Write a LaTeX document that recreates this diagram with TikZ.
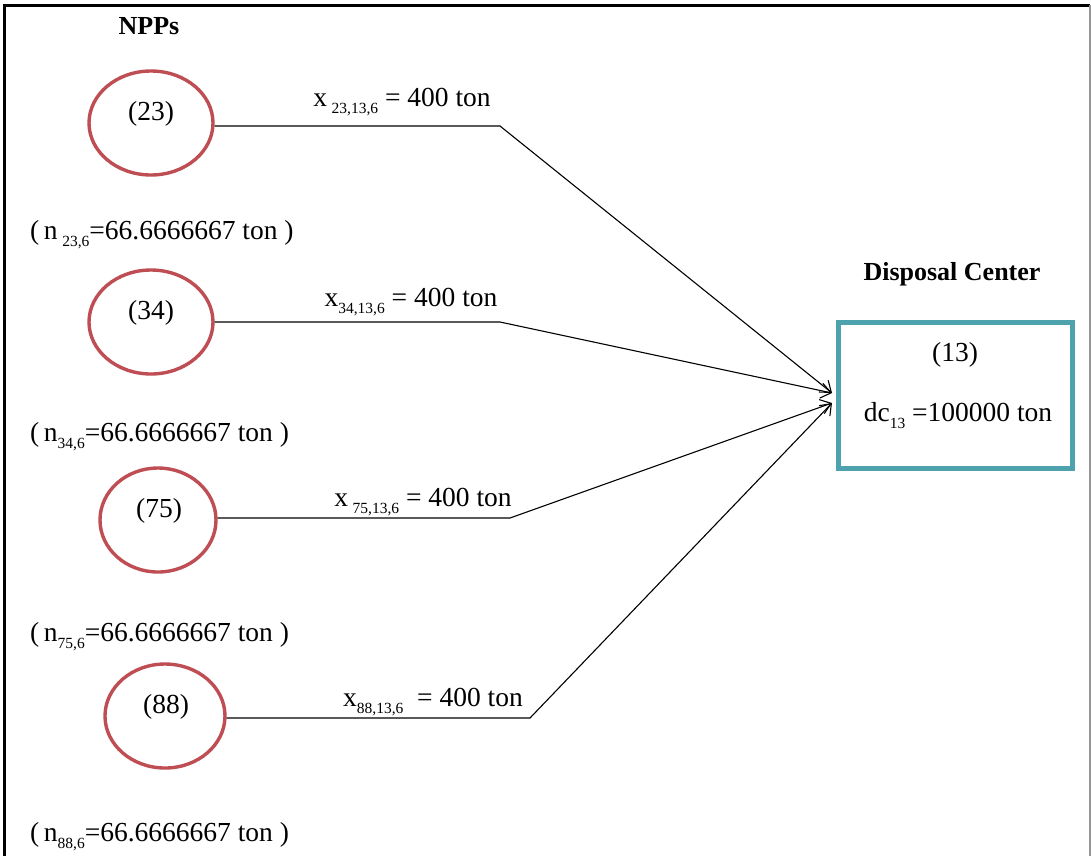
\documentclass[tikz,border=0pt]{standalone}
\usepackage{fontspec}
\setmainfont{Liberation Serif}
\usetikzlibrary{shapes.geometric,arrows.meta}
\definecolor{nppred}{RGB}{190,78,84}
\definecolor{dcteal}{RGB}{78,162,174}
\definecolor{framegrey}{RGB}{150,150,150}
\newcommand{\sbx}[1]{\raisebox{-7pt}{\fontsize{15.5}{15.5}\selectfont #1}}
\begin{document}
\begin{tikzpicture}[x=1pt,y=-1pt,
  npp/.style={ellipse,draw=nppred,line width=3.4pt,inner sep=0pt,minimum height=104pt},
  txt/.style={font=\fontsize{27.5}{32}\selectfont,inner sep=0pt,anchor=base},
  hdr/.style={font=\fontsize{26}{30}\selectfont\bfseries,inner sep=0pt,anchor=base},
  dcbox/.style={draw=dcteal,line width=5pt,minimum width=234pt,minimum height=146pt,inner sep=0pt},
  flowarr/.style={line width=1.1pt,-{Straight Barb[length=10pt,width=15pt,line width=1.1pt]}}]
\useasboundingbox (0,0) rectangle (1091,855);
\fill[white] (0,0) rectangle (1091,855);
% frame
\draw[line width=3pt] (4,856) -- (4,5) -- (1090,5);
\draw[framegrey,line width=1.5pt] (1090,5) -- (1090,856);

% headers
\node[hdr] (nppsh) at (149,34) {NPPs};
\node[hdr] (dch) at (952,280) {Disposal Center};

% NPP nodes
\node[npp,minimum width=124pt] (n23) at (151,123) {};
\node[npp,minimum width=124pt] (n34) at (151,322) {};
\node[npp,minimum width=116pt] (n75) at (158,520) {};
\node[npp,minimum width=120pt] (n88) at (165,716) {};
\node[txt] (t23) at (151,120) {(23)};
\node[txt] (t34) at (151,319) {(34)};
\node[txt] (t75) at (159,517) {(75)};
\node[txt] (t88) at (166,713) {(88)};

% disposal center
\node[dcbox] (dc) at (955,395) {};
\node[txt] (t13) at (955,361) {(13)};
\node[txt] (tdc) at (958,421) {dc\sbx{13} =100000 ton};

% bends and tips
\coordinate (b23) at (500,126);
\coordinate (b34) at (500,322);
\coordinate (b75) at (510,518);
\coordinate (b88) at (530,718);
\coordinate (tipU) at (832,393);
\coordinate (tipL) at (832,403);

\draw[flowarr] (n23.east |- b23) -- (b23) -- (tipU);
\draw[flowarr] (n34.east |- b34) -- (b34) -- (tipU);
\draw[flowarr] (n75.east |- b75) -- (b75) -- (tipL);
\draw[flowarr] (n88.east |- b88) -- (b88) -- (tipL);

% flow labels
\node[txt] (x23) at (402,106) {x\,\sbx{23,13,6} = 400 ton};
\node[txt] (x34) at (411,306) {x\sbx{34,13,6} = 400 ton};
\node[txt] (x75) at (423,506) {x\,\sbx{75,13,6} = 400 ton};
\node[txt] (x88) at (433,706) {x\sbx{88,13,6} \ = 400 ton};

% capacity labels
\node[txt,anchor=base west] (c23) at (30,239) {(\,n\,\sbx{23,6}=66.6666667 ton )};
\node[txt,anchor=base west] (c34) at (30,441) {(\,n\sbx{34,6}=66.6666667 ton )};
\node[txt,anchor=base west] (c75) at (30,641) {(\,n\sbx{75,6}=66.6666667 ton )};
\node[txt,anchor=base west] (c88) at (30,841) {(\,n\sbx{88,6}=66.6666667 ton )};
\end{tikzpicture}
\end{document}
